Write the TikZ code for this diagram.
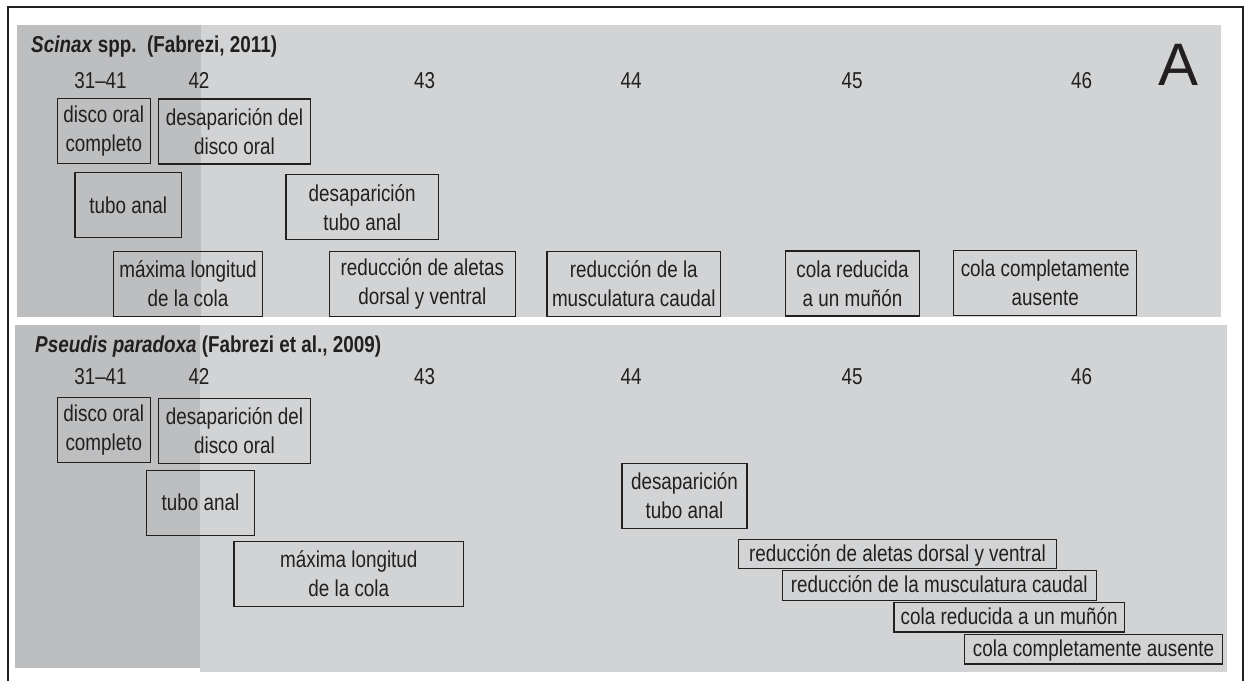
\documentclass[tikz,border=0pt]{standalone}
\usepackage{fontspec}
\setmainfont{Liberation Sans}[FakeStretch=0.82]
\newfontfamily\panelletter{Liberation Sans}
\definecolor{panellight}{RGB}{209,211,212}
\definecolor{paneldark}{RGB}{188,190,192}
\definecolor{inkgrey}{RGB}{35,31,32}

\begin{document}
\begin{tikzpicture}[x=1pt,y=-1pt,
    event/.style={draw=inkgrey, line width=1.3pt, text=inkgrey, inner sep=2pt, align=center,
        font=\fontsize{23}{29}\selectfont, minimum height=65pt},
    oneline/.style={text height=18pt, text depth=2pt},
    strip/.style={minimum height=29.5pt, text height=17pt, text depth=3pt},
    stage/.style={anchor=base, text=inkgrey, font=\fontsize{23}{27}\selectfont, inner sep=0pt},
    heading/.style={anchor=base west, text=inkgrey, font=\fontsize{23}{27}\selectfont\bfseries, inner sep=0pt}]
    \useasboundingbox (0,0) rectangle (1248,681);

    % Grey panels
    \fill[panellight] (17,25) rectangle (1221,316.5);
    \fill[paneldark] (17,25) rectangle (201,316.5);
    \fill[panellight] (200,325) rectangle (1227,672);
    \fill[paneldark] (15,325) rectangle (200,668);

    % Open frame
    \draw[inkgrey, line width=2.4pt] (8,681) -- (8,7) -- (1243,7) -- (1243,681);

    % Titles and panel letter
    \node[heading] (titleA) at (31,52.5) {\textit{Scinax} spp.\ \ (Fabrezi, 2011)};
    \node[heading] (titleB) at (35,352.5) {\textit{Pseudis paradoxa} (Fabrezi et al., 2009)};
    \node[anchor=base, inner sep=0pt, text=inkgrey, font=\panelletter\fontsize{60}{60}\selectfont] (letterA) at (1178,85) {A};

    % Stage numbers
    \foreach \stg/\xs [count=\i] in {31–41/100.5, 42/199, 43/424.5, 44/631, 45/852, 46/1081.5} {
        \node[stage] (stA\i) at (\xs,88) {\stg};
        \node[stage] (stB\i) at (\xs,384) {\stg};
    }

    % Scinax events
    \node[event, minimum width=93pt] (oralA) at (103.8,131) {disco oral\\completo};
    \node[event, minimum width=152.4pt] (oralLossA) at (234.5,131.5) {desaparición del\\disco oral};
    \node[event, oneline, minimum width=106.7pt] (tubeA) at (128.3,205.3) {tubo anal};
    \node[event, minimum width=152.3pt] (tubeLossA) at (362.2,207.3) {desaparición\\tubo anal};
    \node[event, minimum width=149.4pt] (tailMaxA) at (188,283.7) {máxima longitud\\de la cola};
    \node[event, minimum width=186pt] (finsA) at (422.3,283.7) {reducción de aletas\\dorsal y ventral};
    \node[event, minimum width=173.7pt] (muscleA) at (633.8,283.7) {reducción de la\\musculatura caudal};
    \node[event, minimum width=133.6pt] (stumpA) at (852.5,283.5) {cola reducida\\a un muñón};
    \node[event, minimum width=183pt] (tailGoneA) at (1045.2,283.2) {cola completamente\\ausente};

    % Pseudis events
    \node[event, minimum width=93pt] (oralB) at (103.8,430.2) {disco oral\\completo};
    \node[event, minimum width=152.4pt] (oralLossB) at (234.5,430.8) {desaparición del\\disco oral};
    \node[event, oneline, minimum width=108.4pt] (tubeB) at (200.5,502.7) {tubo anal};
    \node[event, minimum width=229.7pt] (tailMaxB) at (348.8,573.8) {máxima longitud\\de la cola};
    \node[event, minimum width=125pt] (tubeLossB) at (684.5,495.7) {desaparición\\tubo anal};
    \node[event, strip, minimum width=318.4pt] (finsB) at (897.5,554) {reducción de aletas dorsal y ventral};
    \node[event, strip, minimum width=314pt] (muscleB) at (939.3,585.5) {reducción de la musculatura caudal};
    \node[event, strip, minimum width=230.3pt] (stumpB) at (1009.2,617.2) {cola reducida a un muñón};
    \node[event, strip, minimum width=258.4pt] (tailGoneB) at (1093.5,649.2) {cola completamente ausente};
\end{tikzpicture}
\end{document}
